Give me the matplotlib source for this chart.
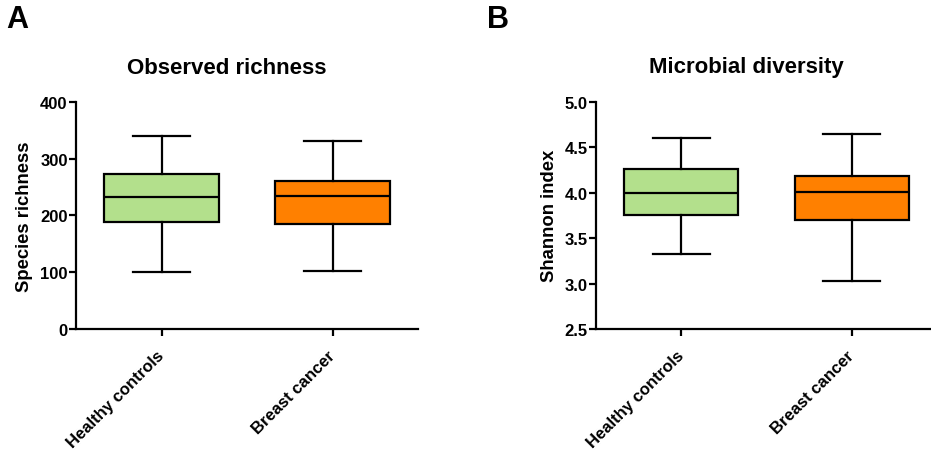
import matplotlib
matplotlib.use("Agg")
import matplotlib.pyplot as plt

plt.rcParams["font.family"] = ["Liberation Sans", "DejaVu Sans"]
plt.rcParams["font.weight"] = "bold"

# === Данные ===
groups = ["Healthy controls", "Breast cancer"]
colors = ["#B3E08C", "#FF8000"]

# richness: min, Q1, median, Q3, max
richness_min = [101, 102]
richness_q1 = [188, 184]
richness_med = [233, 234]
richness_q3 = [273, 261]
richness_max = [339, 330]

# Shannon
shannon_min = [3.33, 3.03]
shannon_q1 = [3.75, 3.70]
shannon_med = [4.00, 4.01]
shannon_q3 = [4.265, 4.18]
shannon_max = [4.60, 4.64]

W, H = 931, 452
fig = plt.figure(figsize=(W / 100, H / 100), dpi=100)


def make_stats(lo, q1, med, q3, hi):
    return [dict(whislo=a, q1=b, med=c, q3=d, whishi=e, fliers=[])
            for a, b, c, d, e in zip(lo, q1, med, q3, hi)]


def panel(rect, stats, ylim, yticks, ylabel, title, letter, letter_x):
    ax = fig.add_axes(rect)
    lw = 1.6
    bp = ax.bxp(stats, positions=[1, 2], widths=0.67, patch_artist=True,
                showfliers=False,
                boxprops=dict(linewidth=lw, edgecolor="black"),
                medianprops=dict(color="black", linewidth=lw),
                whiskerprops=dict(color="black", linewidth=lw),
                capprops=dict(color="black", linewidth=lw),
                capwidths=0.337)
    for patch, c in zip(bp["boxes"], colors):
        patch.set_facecolor(c)
    ax.set_xlim(0.5, 2.5)
    ax.set_ylim(*ylim)
    ax.set_yticks(yticks)
    if isinstance(yticks[0], float):
        ax.set_yticklabels([f"{t:.1f}" for t in yticks])
    ax.set_xticks([1, 2])
    ax.set_xticklabels(groups, rotation=45, ha="right", va="center",
                       rotation_mode="anchor", fontsize=12, fontweight="bold")
    for s in ["top", "right"]:
        ax.spines[s].set_visible(False)
    for s in ["left", "bottom"]:
        ax.spines[s].set_linewidth(lw)
    ax.tick_params(axis="both", width=lw, length=5, pad=1, labelsize=12)
    ax.tick_params(axis="x", pad=12)
    ax.set_ylabel(ylabel, fontsize=13.3, fontweight="bold", labelpad=5)
    cx = (rect[0] + rect[2] / 2) * W - 20
    fig.text(cx / W, 1 - 68 / H, title, ha="center", va="center",
             fontsize=16, fontweight="bold")
    fig.text(letter_x / W, 1 - 20 / H, letter, ha="left", va="center",
             fontsize=22, fontweight="bold")
    return ax


bottom = (H - 330) / H
height = 227.3 / H

panel([76 / W, bottom, 342 / W, height],
      make_stats(richness_min, richness_q1, richness_med, richness_q3, richness_max),
      (0, 400), [0, 100, 200, 300, 400], "Species richness",
      "Observed richness", "A", 6)

panel([596 / W, bottom, 341 / W, height],
      make_stats(shannon_min, shannon_q1, shannon_med, shannon_q3, shannon_max),
      (2.5, 5.0), [2.5, 3.0, 3.5, 4.0, 4.5, 5.0], "Shannon index",
      "Microbial diversity", "B", 487)

fig.savefig("out.png", dpi=100)
